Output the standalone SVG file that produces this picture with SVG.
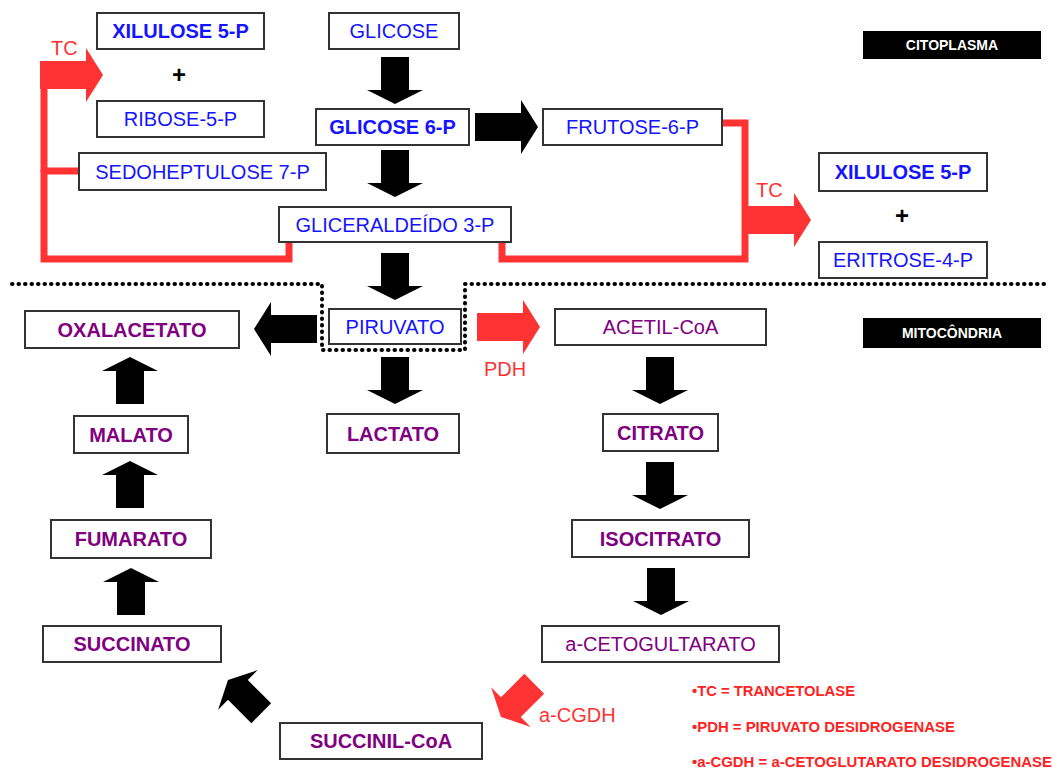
<svg xmlns="http://www.w3.org/2000/svg" width="1053" height="769" viewBox="0 0 1053 769">
<style>
  .box rect { fill: #fff; stroke: #333; stroke-width: 2; }
  .box text { font-family: "Liberation Sans", Arial, sans-serif; font-size: 20px; text-anchor: middle; }
  .blue text { fill: #1414ff; }
  .purple text { fill: #800080; }
  .b text { font-weight: bold; }
  .red { fill: #ff3333; }
  .redline { fill: none; stroke: #ff3333; stroke-width: 7; stroke-linecap: round; stroke-linejoin: miter; }
  .lbl { font-family: "Liberation Sans", Arial, sans-serif; font-size: 20px; fill: #ff3333; }
  .legend { font-family: "Liberation Sans", Arial, sans-serif; font-size: 14.5px; font-weight: bold; fill: #ff2222; }
  .tag text { font-family: "Liberation Sans", Arial, sans-serif; font-size: 14px; font-weight: bold; fill: #fff; text-anchor: middle; }
  .plus { font-family: "Liberation Sans", Arial, sans-serif; font-size: 24px; font-weight: bold; fill: #000; text-anchor: middle; }
</style>
<defs>
  <path id="vArrow" d="M0,0 L-28,-14 L-14,-14 L-14,-47 L14,-47 L14,-14 L28,-14 Z"/>
  <path id="hArrow" d="M0,0 L-17,-27 L-17,-14 L-63,-14 L-63,14 L-17,14 L-17,27 Z"/>
</defs>
<rect width="1053" height="769" fill="#fff"/>

<!-- compartment divider -->
<path d="M12 284 H322 V350 H465 V284 H1050" fill="none" stroke="#000" stroke-width="4" stroke-dasharray="0.5 6" stroke-linecap="round"/>

<g id="tag-citoplasma" class="tag">
  <rect x="863" y="31" width="178" height="28" fill="#000"/>
  <text x="952" y="50">CITOPLASMA</text>
</g>
<g id="tag-mitocondria" class="tag">
  <rect x="863" y="318" width="178" height="30" fill="#000"/>
  <text x="952" y="338">MITOCÔNDRIA</text>
</g>

<g id="connectors">
  <!-- red transketolase lines -->
  <path class="redline" d="M44 66 V259 H289 V243"/>
  <path class="redline" d="M44 171 H79"/>
  <path class="redline" d="M722 123 H745 V259 H502 V243"/>
  <!-- red arrows -->
  <use href="#hArrow" class="red" transform="translate(103,75)"/>
  <use href="#hArrow" class="red" transform="translate(811,220)"/>
  <use href="#hArrow" class="red" transform="translate(540,327)"/>
  <use href="#vArrow" class="red" transform="translate(501,717) rotate(45)"/>
  <!-- black arrows -->
  <use href="#vArrow" transform="translate(395,104)"/>
  <use href="#vArrow" transform="translate(395,197)"/>
  <use href="#vArrow" transform="translate(395,300)"/>
  <use href="#vArrow" transform="translate(395,404)"/>
  <use href="#hArrow" transform="translate(538,127)"/>
  <use href="#hArrow" transform="translate(254,329) rotate(180)"/>
  <use href="#vArrow" transform="translate(660,404)"/>
  <use href="#vArrow" transform="translate(660,509)"/>
  <use href="#vArrow" transform="translate(661,615)"/>
  <use href="#vArrow" transform="translate(130,357) rotate(180)"/>
  <use href="#vArrow" transform="translate(130,461) rotate(180)"/>
  <use href="#vArrow" transform="translate(131,568) rotate(180)"/>
  <use href="#vArrow" transform="translate(228,680) rotate(135)"/>
  <!-- enzyme labels -->
  <text class="lbl" x="51" y="55">TC</text>
  <text class="lbl" x="756" y="197">TC</text>
  <text class="lbl" x="484" y="376">PDH</text>
  <text class="lbl" x="539" y="722">a-CGDH</text>
</g>

<text class="plus" x="179" y="83">+</text>
<text class="plus" x="902" y="224">+</text>

<g id="n-xilulose-l" class="box blue b"><rect x="97" y="13" width="167" height="36"/><text x="180.5" y="38">XILULOSE 5-P</text></g>
<g id="n-ribose" class="box blue"><rect x="97" y="101" width="167" height="36"/><text x="180.5" y="126">RIBOSE-5-P</text></g>
<g id="n-sedoheptulose" class="box blue"><rect x="79" y="153" width="247" height="37"/><text x="202.5" y="178.5">SEDOHEPTULOSE 7-P</text></g>
<g id="n-glicose" class="box blue"><rect x="329" y="13" width="130" height="36"/><text x="394" y="38">GLICOSE</text></g>
<g id="n-glicose6p" class="box blue b"><rect x="316" y="109" width="153" height="36"/><text x="392.5" y="134">GLICOSE 6-P</text></g>
<g id="n-frutose6p" class="box blue"><rect x="543" y="109" width="179" height="36"/><text x="632.5" y="134">FRUTOSE-6-P</text></g>
<g id="n-gliceraldeido" class="box blue"><rect x="279" y="207" width="232" height="35"/><text x="395" y="231.5">GLICERALDEÍDO 3-P</text></g>
<g id="n-xilulose-r" class="box blue b"><rect x="819" y="153" width="168" height="38"/><text x="903" y="179">XILULOSE 5-P</text></g>
<g id="n-eritrose" class="box blue"><rect x="819" y="242" width="168" height="36"/><text x="903" y="267">ERITROSE-4-P</text></g>
<g id="n-piruvato" class="box blue"><rect x="329" y="309" width="132" height="35"/><text x="395" y="333.5">PIRUVATO</text></g>
<g id="n-oxalacetato" class="box purple b"><rect x="25" y="311" width="214" height="37"/><text x="132" y="336.5">OXALACETATO</text></g>
<g id="n-acetilcoa" class="box purple"><rect x="555" y="309" width="211" height="36"/><text x="660.5" y="334">ACETIL-CoA</text></g>
<g id="n-lactato" class="box purple b"><rect x="327" y="414" width="132" height="39"/><text x="393" y="440.5">LACTATO</text></g>
<g id="n-malato" class="box purple b"><rect x="74" y="416" width="114" height="37"/><text x="131" y="441.5">MALATO</text></g>
<g id="n-citrato" class="box purple b"><rect x="603" y="414" width="115" height="37"/><text x="660.5" y="439.5">CITRATO</text></g>
<g id="n-fumarato" class="box purple b"><rect x="51" y="520" width="160" height="38"/><text x="131" y="546">FUMARATO</text></g>
<g id="n-isocitrato" class="box purple b"><rect x="572" y="520" width="177" height="37"/><text x="660.5" y="545.5">ISOCITRATO</text></g>
<g id="n-succinato" class="box purple b"><rect x="43" y="626" width="178" height="36"/><text x="132" y="651">SUCCINATO</text></g>
<g id="n-acetoglutarato" class="box purple"><rect x="542" y="626" width="237" height="36"/><text x="660.5" y="651">a-CETOGULTARATO</text></g>
<g id="n-succinilcoa" class="box purple b"><rect x="280" y="723" width="202" height="36"/><text x="381" y="748">SUCCINIL-CoA</text></g>

<g id="legend">
  <text class="legend" x="692" y="696" textLength="163" lengthAdjust="spacingAndGlyphs">•TC = TRANCETOLASE</text>
  <text class="legend" x="692" y="732" textLength="263" lengthAdjust="spacingAndGlyphs">•PDH = PIRUVATO DESIDROGENASE</text>
  <text class="legend" x="692" y="767" textLength="360" lengthAdjust="spacingAndGlyphs">•a-CGDH = a-CETOGLUTARATO DESIDROGENASE</text>
</g>
</svg>
